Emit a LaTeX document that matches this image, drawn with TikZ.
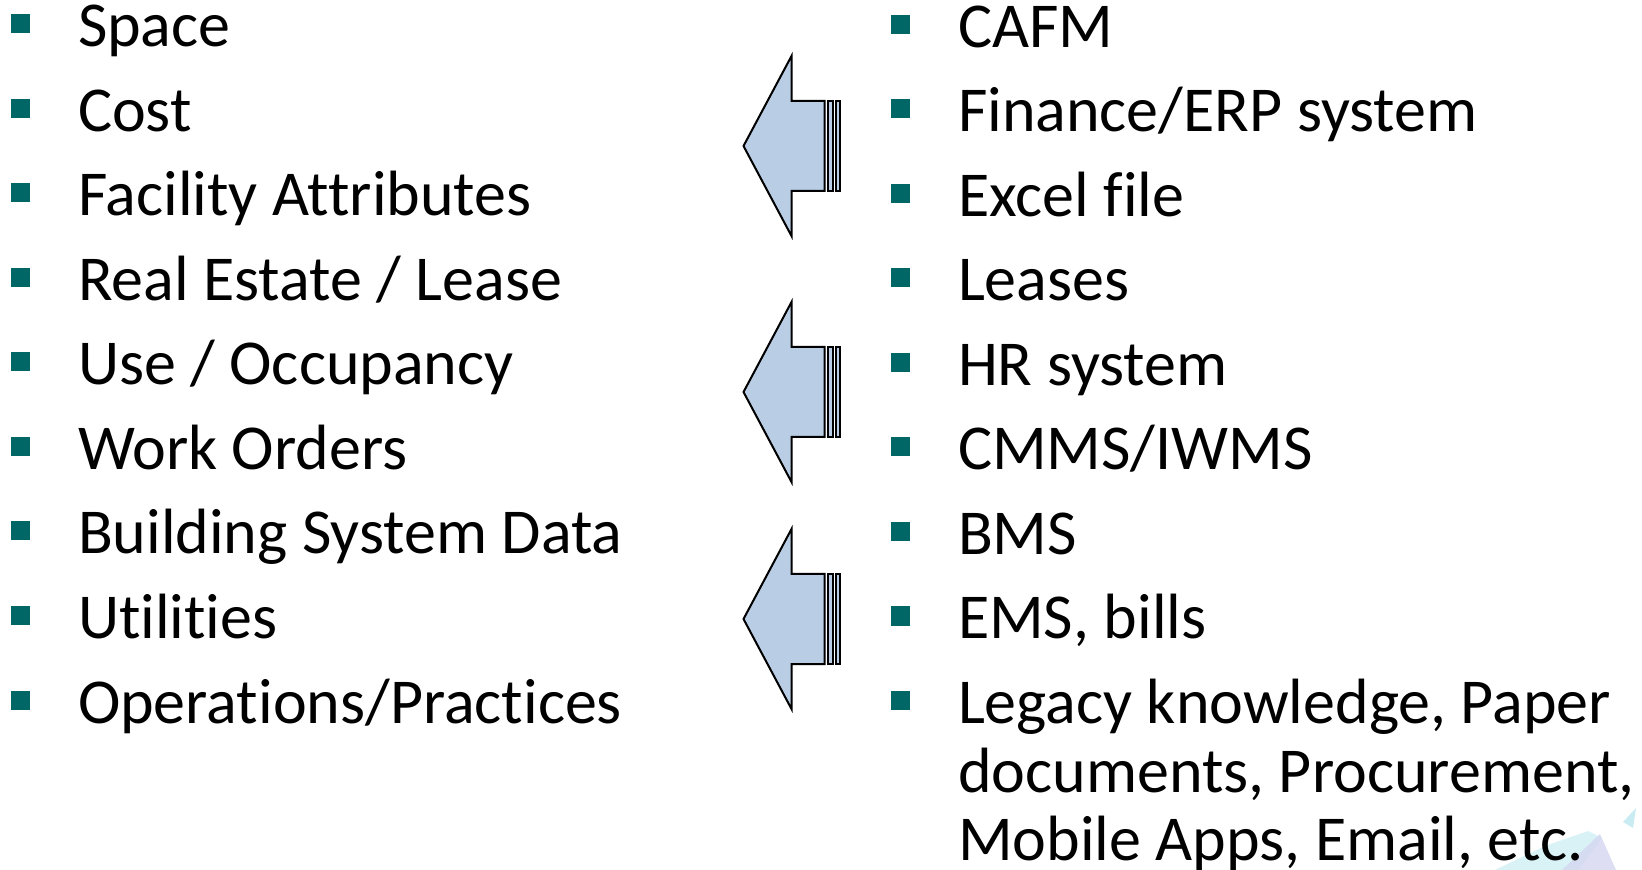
\documentclass[tikz,border=0pt]{standalone}
\usepackage{fontspec}
\setmainfont{Carlito}[RawFeature={-liga;-clig;-calt;-rlig}]
\usepackage{tikz}

\definecolor{bullteal}{RGB}{0,102,102}
\definecolor{arrowblue}{RGB}{185,205,229}
\definecolor{decocyan}{RGB}{200,236,242}
\definecolor{decolav}{RGB}{212,214,240}

\begin{document}
\begin{tikzpicture}[
        x=0.5pt, y=-0.5pt,
        every node/.style={inner sep=0pt, outer sep=0pt},
        item/.style={anchor=base west, font=\fontsize{32}{38}\selectfont},
        bullet/.style={rectangle, fill=bullteal, minimum size=9.5pt},
        srcarrow/.style={draw=black, line width=1pt, fill=arrowblue, line join=miter}
      ]
        \useasboundingbox (0,0) rectangle (1642,870);

        % faint corner decoration
        \fill[decocyan, opacity=.7] (1495,870) -- (1545,846) -- (1588,831) -- (1602,838) -- (1578,870) -- cycle;
        \fill[decolav, opacity=.8] (1562,870) -- (1600,834) -- (1616,870) -- cycle;
        \fill[decocyan] (1623,822) -- (1636,808) -- (1633,828) -- cycle;

        % what is tracked
        \foreach \txt [count=\i] in {Space, Cost, Facility Attributes, Real Estate / Lease,
            Use / Occupancy, Work Orders, Building System Data, Utilities, Operations/Practices}
        {
          \node[bullet] (needb\i) at (20.5, {24+(\i-1)*84.5}) {};
          \node[item] (need\i) at (78, {47+(\i-1)*84.5}) {\txt};
        }

        % where it comes from
        \foreach \txt [count=\i] in {CAFM, Finance/ERP system, Excel file, Leases,
            HR system, CMMS/IWMS, BMS, {EMS, bills}, {Legacy knowledge, Paper}}
        {
          \node[bullet] (srcb\i) at (900.5, {24.5+(\i-1)*84.5}) {};
          \node[item] (src\i) at (958, {47.5+(\i-1)*84.5}) {\txt};
        }
        \node[item] (src9b) at (958, 792) {documents, Procurement,};
        \node[item] (src9c) at (958, 860) {Mobile Apps, Email, etc.};

        % striped arrows pointing left
        \foreach \cy in {146, 392, 619}
        {
          \draw[srcarrow] (743.5,\cy) -- (791.5,\cy-90) -- (791.5,\cy-45) -- (824.5,\cy-45)
            -- (824.5,\cy+45) -- (791.5,\cy+45) -- (791.5,\cy+90) -- cycle;
          \draw[srcarrow] (827.5,\cy-45) rectangle (833,\cy+45);
          \draw[srcarrow] (836,\cy-45) rectangle (839.5,\cy+45);
        }
      \end{tikzpicture}
\end{document}
